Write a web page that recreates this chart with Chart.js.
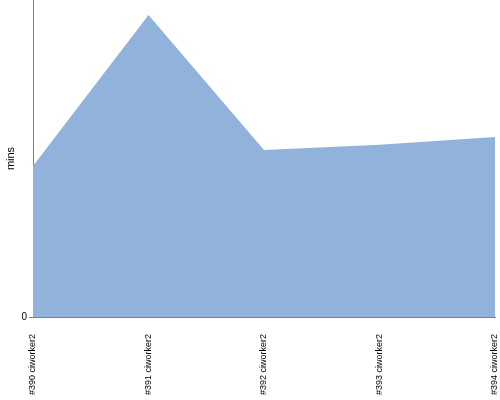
<!DOCTYPE html>
<html>
<head>
<meta charset="utf-8">
<script src="https://cdn.jsdelivr.net/npm/chart.js@4"></script>
<style>
  html, body { margin: 0; padding: 0; background: #fff; }
  #wrap { width: 500px; height: 400px; }
</style>
</head>
<body>
<div id="wrap"><canvas id="chart"></canvas></div>
<script>
// builds and durations (mins)
const builds = ['#390 ciworker2', '#391 ciworker2', '#392 ciworker2', '#393 ciworker2', '#394 ciworker2'];
const minutes = [4.76, 9.53, 5.27, 5.43, 5.68];
const yMax = 10;

const ctx = document.getElementById('chart').getContext('2d');
new Chart(ctx, {
  type: 'line',
  data: {
    labels: builds,
    datasets: [{
      label: 'mins',
      data: minutes,
      fill: 'origin',
      backgroundColor: 'rgb(145,179,219)',
      borderColor: 'rgb(145,179,219)',
      borderWidth: 0,
      pointRadius: 0,
      tension: 0
    }]
  },
  options: {
    responsive: true,
    maintainAspectRatio: false,
    animation: false,
    layout: { padding: { top: 0, right: 5, left: 0, bottom: 0 } },
    plugins: { legend: { display: false }, tooltip: { enabled: false } },
    scales: {
      x: {
        offset: false,
        grid: { display: false },
        border: { display: true, color: '#808080' },
        ticks: {
          minRotation: 90, maxRotation: 90, autoSkip: false, padding: 9,
          color: '#000', font: { family: 'Liberation Sans Narrow, Liberation Sans', size: 9 }
        },
        afterFit: s => { s.height = 83; s.paddingLeft = 0; s.paddingRight = 0; }
      },
      y: {
        min: 0, max: yMax,
        title: { display: true, text: 'mins', color: '#000', font: { family: 'Liberation Sans', size: 11 }, padding: { top: 4, bottom: 0 } },
        grid: {
          drawOnChartArea: false, tickLength: 4,
          color: c => (c.tick && c.tick.value === 0 ? '#808080' : 'transparent')
        },
        border: { display: true, color: '#808080' },
        ticks: {
          stepSize: yMax, padding: 2, color: '#000',
          font: { family: 'Liberation Sans', size: 10 },
          callback: v => (v === 0 ? '0' : '')
        },
        afterFit: s => { s.width = 33; s.paddingTop = 0; s.paddingBottom = 0; }
      }
    }
  }
});
</script>
</body>
</html>
